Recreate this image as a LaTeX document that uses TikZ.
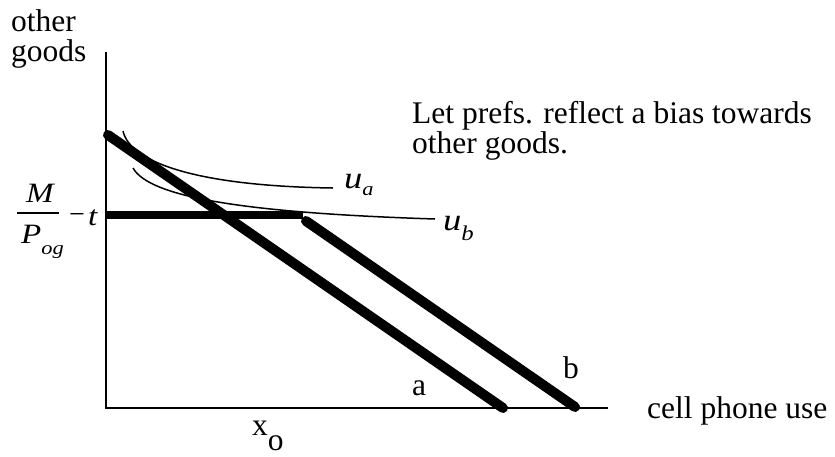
\documentclass[tikz,border=0pt]{standalone}
\usepackage{fontspec}
\usepackage{graphicx}
\setmainfont{Liberation Serif}
\newcommand{\widen}[1]{\scalebox{1.18}[1]{#1}}
\begin{document}
\begin{tikzpicture}[x=1pt,y=-1pt,
  axis/.style={line width=2.6pt},
  budget/.style={line width=10pt,line cap=round},
  indiff/.style={line width=1.5pt},
  bigtext/.style={inner sep=0pt,font=\fontsize{31.5}{30}\selectfont},
  ulabel/.style={inner sep=0pt,font=\fontsize{31}{31}\selectfont\itshape},
  mathlabel/.style={inner sep=0pt,font=\fontsize{28}{28}\selectfont\itshape}]
\useasboundingbox (0,0) rectangle (835,456);
% coordinates
\coordinate (O) at (106,408);
\coordinate (Ytop) at (106,52);
\coordinate (Xend) at (608,408);
\coordinate (A1) at (108,135);
\coordinate (A2) at (503,408);
\coordinate (B0) at (106,215);
\coordinate (B1) at (303,215);
\coordinate (B1d) at (306,221);
\coordinate (B2) at (575,407);
\coordinate (F1) at (17,213);
\coordinate (F2) at (59,213);
% axes
\draw[axis] (Ytop) -- (O) -- (Xend);
% indifference curves
\draw[indiff] (123,131) .. controls (130,162) and (195,186) .. (333,188);
\draw[indiff] (133,168) .. controls (150,198) and (250,213) .. (435,219);
% budget lines
\draw[budget] (A1) -- (A2);
\draw[line width=8pt] (B0) -- (B1);
\draw[budget] (B1d) -- (B2);
% texts
\node[bigtext,anchor=base west] (yl1) at (11,31) {other};
\node[bigtext,anchor=base west] (yl2) at (11,61) {goods};
\node[bigtext,anchor=base west] (n1) at (412,123) {Let prefs. reflect a bias towards};
\node[bigtext,anchor=base west] (n2) at (412,153) {other goods.};
\node[bigtext,anchor=base west] (xl) at (647,418) {cell phone use};
\node[bigtext,anchor=base west] (la) at (412,395) {a};
\node[bigtext,anchor=base west] (lb) at (563,378) {b};
\node[bigtext,anchor=base west] (x0) at (252,435) {x\raisebox{-15pt}{o}};
\node[ulabel,anchor=base west] (ua) at (344,188) {\widen{u}\raisebox{-7pt}{\fontsize{19}{19}\selectfont\widen{a}}};
\node[ulabel,anchor=base west] (ub) at (443,230) {\widen{u}\raisebox{-10pt}{\fontsize{21}{21}\selectfont\widen{b}}};
% M / P_og - t
\draw[line width=2pt] (F1) -- (F2);
\node[mathlabel,anchor=base] (fm) at (40,202) {\widen{M}};
\node[mathlabel,anchor=base west] (fp) at (21,243) {\widen{P}\raisebox{-11pt}{\fontsize{19}{19}\selectfont\widen{og}}};
\node[mathlabel,anchor=base west,font=\fontsize{28}{28}\selectfont] (fminus) at (69,223) {−};
\node[mathlabel,anchor=base west] (ft) at (88,225) {\widen{t}};
\end{tikzpicture}
\end{document}
